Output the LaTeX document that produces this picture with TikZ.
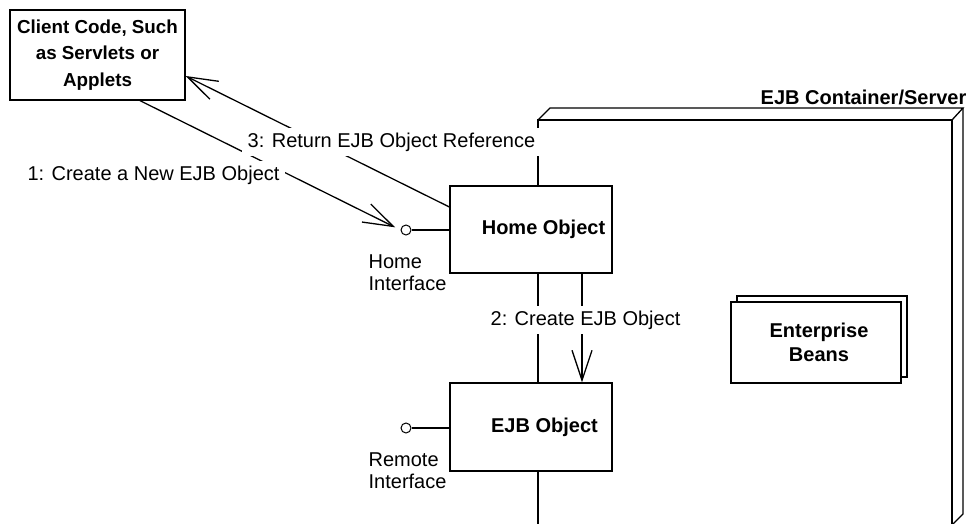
\documentclass[tikz,border=0pt]{standalone}
\usepackage{fontspec}
\setmainfont{Liberation Sans}
\usetikzlibrary{arrows.meta}
\begin{document}
\begin{tikzpicture}[x=1pt,y=-1pt, line width=1.3pt,
  box/.style={draw, fill=white, rectangle, inner sep=0pt, font=\bfseries\fontsize{20}{26.5}\selectfont, align=center},
  lbl/.style={fill=white, inner ysep=5pt, inner xsep=6pt, font=\fontsize{20}{22}\selectfont},
  itxt/.style={inner sep=0pt, anchor=west, align=left, font=\fontsize{20}{22}\selectfont},
  iface/.style={draw, fill=white, circle, minimum size=10pt, inner sep=0pt, line width=1pt},
  tip/.style={-{Straight Barb[length=30pt,width=20pt]}}
]
\useasboundingbox (0,0) rectangle (972,524);
% container
\draw (538,530) -- (538,120) -- (952,120) -- (952,530);
\draw (538,120) -- (550,108) -- (963,108) -- (952,120);
\draw (963,108) -- (963,514) -- (952,525);
\node[anchor=east, inner sep=0pt, font=\bfseries\fontsize{20}{22}\selectfont] (cont) at (967,97) {EJB Container/Server};
% boxes
\node[box, minimum width=175pt, minimum height=90pt, font=\bfseries\fontsize{18.8}{26.5}\selectfont] (client) at (97.5,55) {Client Code, Such\\as Servlets or\\Applets};
\node[box, minimum width=162pt, minimum height=87pt] (home) at (531,229.5) {\hspace*{25pt}Home Object};
\node[box, minimum width=162pt, minimum height=88pt] (ejb) at (531,427) {\hspace*{27pt}EJB Object};
\node[box, minimum width=170pt, minimum height=81pt] (eb2) at (822,336.5) {};
\node[box, minimum width=170pt, minimum height=81pt, font=\bfseries\fontsize{20}{24}\selectfont] (eb) at (816,342.5) {\hspace*{6pt}Enterprise\\\hspace*{6pt}Beans};
% interfaces
\node[iface] (hi) at (406,230) {};
\node[iface] (ri) at (406,428) {};
\draw (hi) -- (hi -| home.west);
\draw (ri) -- (ri -| ejb.west);
\node[itxt] (hitxt) at (368,273) {Home\\Interface};
\node[itxt] (ritxt) at (368,471) {Remote\\Interface};
% connectors
\draw[tip, shorten >=6pt] ([xshift=42.5pt]client.south) -- (hi.west);
\draw[tip] ([yshift=22.5pt]home.west) -- ([yshift=-21pt]client.east);
\draw[tip] ([xshift=51pt]home.south) -- ([xshift=51pt]ejb.north);
% labels
\node[lbl] (l1) at (153.5,175) {1: Create a New EJB Object};
\node[lbl] (l3) at (391.5,142) {3: Return EJB Object Reference};
\node[lbl] (l2) at (585.5,320) {2: Create EJB Object};
\end{tikzpicture}
\end{document}
